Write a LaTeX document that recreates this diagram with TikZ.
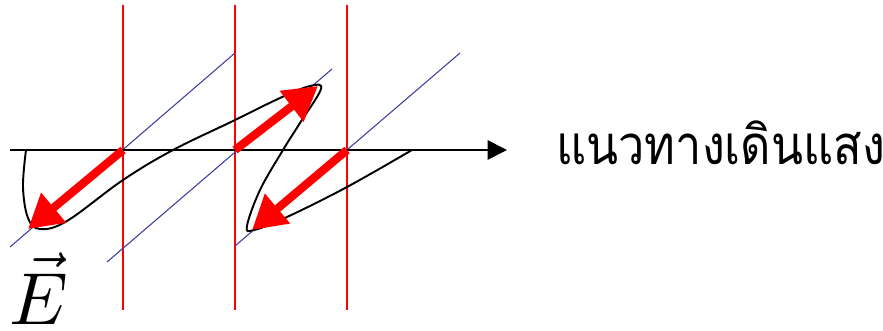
\documentclass[tikz,border=0pt]{standalone}
\usepackage{fontspec}
\usetikzlibrary{arrows.meta,positioning,calc}
\newfontfamily\thaifont[Script=Thai, FakeStretch=0.86]{Loma}
\definecolor{RojoCampo}{RGB}{255,0,0}
\definecolor{AzulPlano}{RGB}{60,60,165}
\tikzset{
  frente/.style={draw=RojoCampo, line width=0.8pt},
  plano/.style={draw=AzulPlano, line width=0.6pt},
  eje/.style={-{Triangle[length=11pt, width=11pt]}, line width=0.9pt, black},
  campoarr/.style={-{Triangle[length=19pt, width=21pt]}, line width=4.7pt, RojoCampo},
  onda/.style={draw=black, line width=1.1pt},
}

\begin{document}
\begin{tikzpicture}[x=0.02cm, y=-0.02cm]
    \useasboundingbox (0,0) rectangle (883,331);
    % ---- puntos sobre el eje ----
    \coordinate (o1) at (123,150);
    \coordinate (o2) at (235,150);
    \coordinate (o3) at (347,150);
    \coordinate (ini) at (10,150);
    \coordinate (fin) at (507,150);

    % ---- frentes de onda ----
    \foreach \x/\n in {123/f1, 235/f2, 347/f3}
      \draw[frente] (\x,5) coordinate (\n a) -- (\x,310) coordinate (\n b);

    % ---- planos de polarizacion ----
    \draw[plano] (10,247) -- (235,53);
    \draw[plano] (107,262) -- (332,69);
    \draw[plano] (235,246) -- (460,53);

    % ---- eje de propagacion ----
    \draw[eje] (ini) -- (fin);
    \node[font=\thaifont\fontsize{31}{34}\selectfont, anchor=base west, inner sep=0pt] (rotulo) at (556,165) {แนวทางเดินแสง};

    % ---- envolvente ----
    \draw[onda] plot[smooth, tension=0.6] coordinates {
      (26,150) (23,187) (28,218) (40,229) (67,221) (123,180) (173,150)
      (233,121) (280,98) (310,86) (321,89) (300,123) (283,150) (260,190)
      (247,226) (254,230) (287,217) (347,187) (412,150)};

    % ---- vectores de campo ----
    \coordinate (t1) at (28,229);
    \coordinate (t2) at (318,86);
    \coordinate (t3) at (252,230);
    \draw[campoarr] (o1) -- (t1);
    \draw[campoarr] (o2) -- (t2);
    \draw[campoarr] (o3) -- (t3);

    \node[anchor=base west, inner sep=0pt] (campo) at (9,324) {\scalebox{4.2}{$\vec{E}$}};
  \end{tikzpicture}
\end{document}
